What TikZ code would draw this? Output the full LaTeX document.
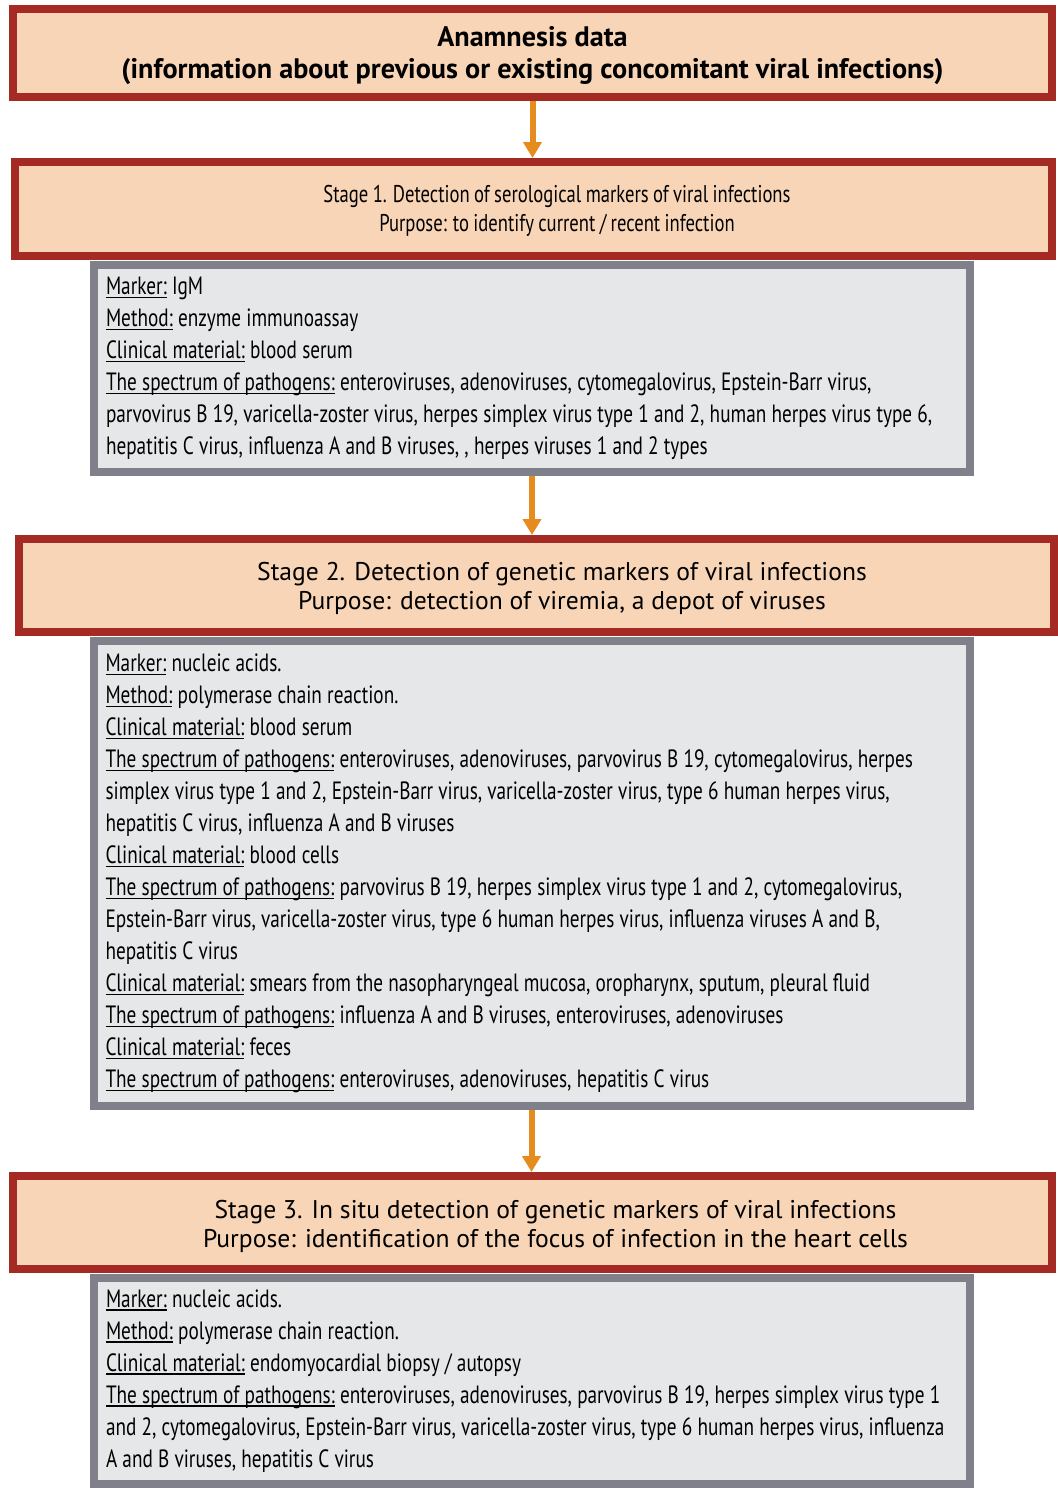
\documentclass[tikz,border=0pt]{standalone}
\usepackage{fontspec}
\setmainfont{PT Sans}
\newfontfamily\condfont{PT Sans}[FakeStretch=0.77]
\usetikzlibrary{arrows.meta}

\definecolor{boxred}{RGB}{165,42,36}
\definecolor{boxpeach}{RGB}{248,213,182}
\definecolor{boxgrey}{RGB}{128,128,138}
\definecolor{boxlight}{RGB}{230,231,233}
\definecolor{arroworange}{RGB}{230,140,30}

% label underlined close to the baseline
\newsavebox{\lblbox}
\newcommand{\lbl}[1]{\leavevmode\sbox{\lblbox}{#1}\rlap{\rule[-1.6pt]{\wd\lblbox}{0.55pt}}\usebox{\lblbox}}
\newcommand{\condsize}[2]{\condfont\fontsize{#1}{#2}\selectfont\fontdimen2\font=0.18em\relax}

\tikzset{
  stagebox/.style={draw=boxred, fill=boxpeach, line width=4pt, inner sep=0pt},
  stagetext/.style={align=center, inner sep=0pt},
  infobox/.style={draw=boxgrey, fill=boxlight, line width=4pt, align=left, inner sep=6pt, text width=426pt,
    font=\condsize{12.5}{16}, execute at begin node={\spaceskip=2.6pt\xspaceskip=3pt\relax}},
  flow/.style={draw=arroworange, line width=3pt, -{Triangle[width=9pt,length=8pt]}}
}

\begin{document}
\begin{tikzpicture}[x=0.5pt,y=-0.5pt]
\useasboundingbox (0,0) rectangle (1058,1488);

    \node[stagebox, minimum width=519.5pt, minimum height=44pt] (anam) at (532.5,53) {};
    \node[stagetext, font=\bfseries\fontsize{14.1}{16}\selectfont] (anamtxt) at (532.5,56) {Anamnesis data\\(information about previous or existing concomitant viral infections)};

    \node[stagebox, minimum width=518.5pt, minimum height=47pt] (stage1) at (533.5,209) {};
    \node[stagetext, font=\condsize{12.1}{14.5}] (stage1txt) at (557,211) {Stage 1. Detection of serological markers of viral infections\\Purpose: to identify current / recent infection};

    \node[infobox, minimum width=436pt, minimum height=103.5pt] (info1) at (532,368.5) {\lbl{Marker:} IgM\\
\lbl{Method:} enzyme immunoassay\\
\lbl{Clinical material:} blood serum\\
\lbl{The spectrum of pathogens:} enteroviruses, adenoviruses, cytomegalovirus, Epstein-Barr virus,\\
parvovirus B 19, varicella-zoster virus, herpes simplex virus type 1 and 2, human herpes virus type 6,\\
hepatitis C virus, influenza A and B viruses, , herpes viruses 1 and 2 types};

    \node[stagebox, minimum width=517.5pt, minimum height=46.5pt] (stage2) at (536.5,585.5) {};
    \node[stagetext, font=\fontsize{12.8}{14.5}\selectfont] (stage2txt) at (562,588.5) {Stage 2. Detection of genetic markers of viral infections\\Purpose: detection of viremia, a depot of viruses};

    \node[infobox, minimum width=435.5pt, minimum height=232.5pt] (info2) at (531.5,873.5) {\lbl{Marker:} nucleic acids.\\
\lbl{Method:} polymerase chain reaction.\\
\lbl{Clinical material:} blood serum\\
\lbl{The spectrum of pathogens:} enteroviruses, adenoviruses, parvovirus B 19, cytomegalovirus, herpes\\
simplex virus type 1 and 2, Epstein-Barr virus, varicella-zoster virus, type 6 human herpes virus,\\
hepatitis C virus, influenza A and B viruses\\
\lbl{Clinical material:} blood cells\\
\lbl{The spectrum of pathogens:} parvovirus B 19, herpes simplex virus type 1 and 2, cytomegalovirus,\\
Epstein-Barr virus, varicella-zoster virus, type 6 human herpes virus, influenza viruses A and B,\\
hepatitis C virus\\
\lbl{Clinical material:} smears from the nasopharyngeal mucosa, oropharynx, sputum, pleural fluid\\
\lbl{The spectrum of pathogens:} influenza A and B viruses, enteroviruses, adenoviruses\\
\lbl{Clinical material:} feces\\
\lbl{The spectrum of pathogens:} enteroviruses, adenoviruses, hepatitis C virus};

    \node[stagebox, minimum width=519.5pt, minimum height=46.5pt] (stage3) at (532.5,1222.5) {};
    \node[stagetext, font=\fontsize{12.8}{14.5}\selectfont] (stage3txt) at (555.5,1226) {Stage 3. In situ detection of genetic markers of viral infections\\Purpose: identification of the focus of infection in the heart cells};

    \node[infobox, minimum width=436pt, minimum height=103pt] (info3) at (532,1381) {\lbl{Marker:} nucleic acids.\\
\lbl{Method:} polymerase chain reaction.\\
\lbl{Clinical material:} endomyocardial biopsy / autopsy\\
\lbl{The spectrum of pathogens:} enteroviruses, adenoviruses, parvovirus B 19, herpes simplex virus type 1\\
and 2, cytomegalovirus, Epstein-Barr virus, varicella-zoster virus, type 6 human herpes virus, influenza\\
A and B viruses, hepatitis C virus};

\draw[flow] (anam.south) -- (anam.south |- stage1.north);
\draw[flow] (info1.south) -- (info1.south |- stage2.north);
\draw[flow] (info2.south) -- (info2.south |- stage3.north);
\end{tikzpicture}
\end{document}
